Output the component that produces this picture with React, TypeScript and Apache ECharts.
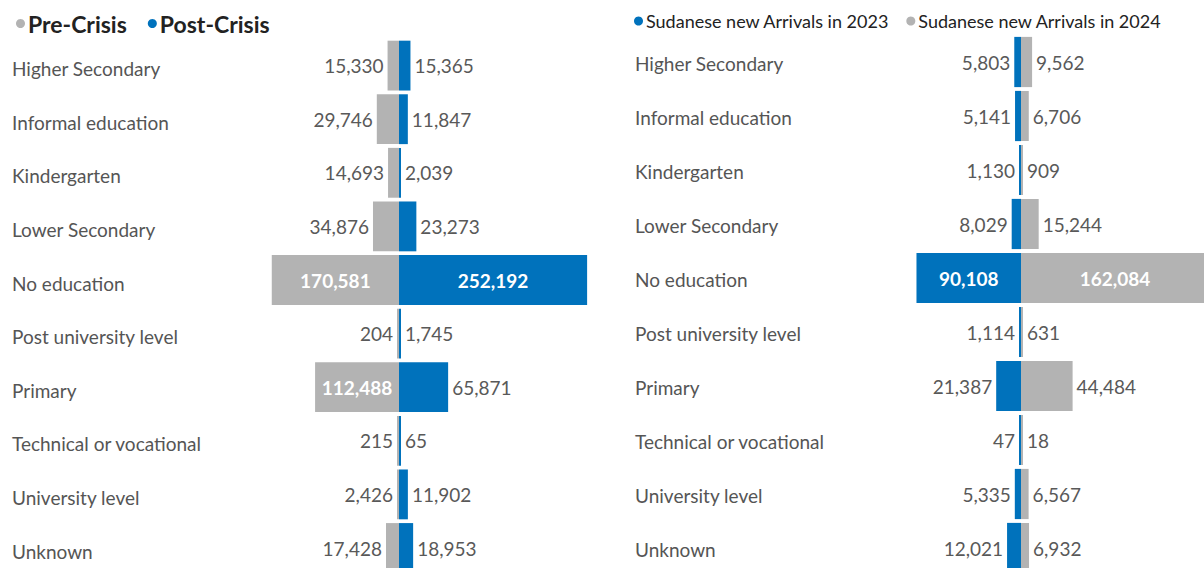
import React, { useEffect, useRef } from "react";
import * as echarts from "echarts";

const categories = [
  "Higher Secondary",
  "Informal education",
  "Kindergarten",
  "Lower Secondary",
  "No education",
  "Post university level",
  "Primary",
  "Technical or vocational",
  "University level",
  "Unknown",
];
const preCrisis = [15330, 29746, 14693, 34876, 170581, 204, 112488, 215, 2426, 17428];
const postCrisis = [15365, 11847, 2039, 23273, 252192, 1745, 65871, 65, 11902, 18953];
const arrivals2023 = [5803, 5141, 1130, 8029, 90108, 1114, 21387, 47, 5335, 12021];
const arrivals2024 = [9562, 6706, 909, 15244, 162084, 631, 44484, 18, 6567, 6932];

const GRAY = "#b3b3b3";
const BLUE = "#0072bc";
const FONT = "Lato";

const fmt = (v: number) => Math.abs(v).toLocaleString("en-US");

function makeData(values: number[], negative: boolean, insideMin: number) {
  return values.map((v) => {
    const inside = v >= insideMin;
    return {
      value: negative ? -v : v,
      label: inside
        ? { position: "inside", color: "#fff", fontWeight: "bold" }
        : { position: negative ? "left" : "right", color: "#595959", fontWeight: "normal" },
    };
  });
}

function series(name: string, values: number[], negative: boolean, color: string, idx: number, insideMin: number) {
  return {
    name,
    type: "bar",
    stack: "s" + idx,
    xAxisIndex: idx,
    yAxisIndex: idx,
    barCategoryGap: "7%",
    barMinHeight: 2,
    itemStyle: { color },
    label: {
      show: true,
      fontFamily: FONT,
      fontSize: 19,
      distance: 4,
      formatter: (p: any) => fmt(p.value),
    },
    data: makeData(values, negative, insideMin),
  };
}

export default function App() {
  const ref = useRef<HTMLDivElement>(null);
  useEffect(() => {
    if (!ref.current) return;
    const chart = echarts.init(ref.current, null, { renderer: "svg" });
    const catAxis = (idx: number, margin: number, shift: number) => ({
      type: "category",
      gridIndex: idx,
      data: categories,
      inverse: true,
      axisTick: { show: false },
      axisLine: { show: false },
      axisLabel: {
        align: "left",
        margin,
        formatter: "{c|{value}}",
        rich: {
          c: {
            fontFamily: FONT,
            fontSize: 19,
            color: "#555",
            padding: [shift * 2, 0, 0, 0],
          },
        },
      },
    });
    const valAxis = (idx: number, min: number, max: number) => ({
      type: "value",
      gridIndex: idx,
      min,
      max,
      show: false,
      splitLine: { show: false },
    });
    chart.setOption({
      animation: false,
      legend: [
        {
          data: ["Pre-Crisis", "Post-Crisis"],
          left: 11,
          top: 7,
          icon: "circle",
          itemWidth: 9,
          itemHeight: 9,
          itemGap: 21,
          selectedMode: false,
          textStyle: { fontFamily: FONT, fontSize: 23, fontWeight: "bold", color: "#222", padding: [0, 0, 0, -2] },
        },
        {
          data: ["Sudanese new Arrivals in 2023", "Sudanese new Arrivals in 2024"],
          left: 629,
          top: 7,
          icon: "circle",
          itemWidth: 9,
          itemHeight: 9,
          itemGap: 17,
          selectedMode: false,
          textStyle: { fontFamily: FONT, fontSize: 18, fontWeight: "normal", color: "#222", padding: [0, 0, 0, -2] },
        },
      ],
      grid: [
        { left: 197.6, width: 402.8, top: 38.8, height: 536, outerBoundsMode: "none", containLabel: false },
        { left: 881.8, width: 371.2, top: 35, height: 540, outerBoundsMode: "none", containLabel: false },
      ],
      xAxis: [valAxis(0, -270000, 270000), valAxis(1, -120000, 200000)],
      yAxis: [catAxis(0, 185.6, 3), catAxis(1, 246.8, 1.5)],
      series: [
        series("Pre-Crisis", preCrisis, true, GRAY, 0, 94000),
        series("Post-Crisis", postCrisis, false, BLUE, 0, 94000),
        series("Sudanese new Arrivals in 2023", arrivals2023, true, BLUE, 1, 60000),
        series("Sudanese new Arrivals in 2024", arrivals2024, false, GRAY, 1, 60000),
      ],
    });
    return () => chart.dispose();
  }, []);
  return (
    <div
      ref={ref}
      style={{ position: "fixed", left: 0, top: 0, width: 1204, height: 568, overflow: "hidden", background: "#fff" }}
    />
  );
}
